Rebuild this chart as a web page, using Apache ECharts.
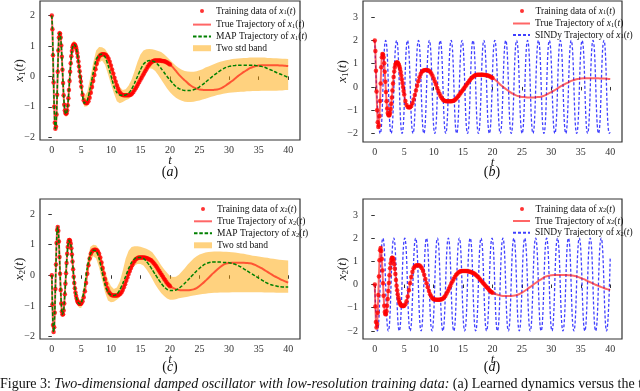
<!DOCTYPE html>
<html>
<head>
<meta charset="utf-8">
<script src="https://cdn.jsdelivr.net/npm/echarts@6.0.0/dist/echarts.min.js"></script>
<style>
  html, body { margin: 0; padding: 0; background: #fff; }
  #chart { width: 640px; height: 391px; }
</style>
</head>
<body>
<div id="chart"></div>
<script>
var FONT = 'Liberation Serif';

// tick labels
var xTicks = [0, 5, 10, 15, 20, 25, 30, 35, 40];
var yTicksLeft = [-2, -1, 0, 1, 2];
var yTicksRight = [-2, -1, 0, 1, 2, 3];

// time grids (sampling points)
var tTrain = [];
for (var i = 0; i <= 50; i++) tTrain.push(i / 10);
for (var i = 26; i <= 100; i++) tTrain.push(i / 5);
var tTail = [];
for (var i = 41; i <= 80; i++) tTail.push(i / 2);
var tMap = [];
for (var i = 0; i <= 30; i++) tMap.push(i / 10);
for (var i = 13; i <= 20; i++) tMap.push(i / 4);
for (var i = 11; i <= 80; i++) tMap.push(i / 2);

// training data / true trajectory, t = 0..20
var x1Train = [
  2.00, 1.55, 0.70, -0.20, -1.00, -1.52, -1.72, -1.65, -1.25, -0.60,
  0.15, 0.85, 1.28, 1.42, 1.40, 1.28, 1.02, 0.65, 0.22, -0.22,
  -0.62, -0.93, -1.12, -1.20, -1.23, -1.21, -1.12, -0.95, -0.72, -0.45, -0.15,
  0.15, 0.43, 0.66, 0.84, 0.96, 1.02, 1.05, 1.05, 1.04, 1.00,
  0.95, 0.87, 0.77, 0.64, 0.49, 0.33, 0.17, 0.00, -0.17, -0.33,
  -0.60, -0.78, -0.86, -0.88, -0.87, -0.82, -0.70, -0.54, -0.35, -0.15,
  0.05, 0.24, 0.42, 0.56, 0.65, 0.70, 0.72, 0.73, 0.73, 0.72,
  0.70, 0.65, 0.58, 0.48, 0.36, 0.23, 0.10, -0.04, -0.17, -0.29,
  -0.40, -0.49, -0.55, -0.59, -0.61, -0.62, -0.62, -0.62, -0.62, -0.62,
  -0.61, -0.59, -0.56, -0.51, -0.45, -0.39, -0.32, -0.25, -0.18, -0.11,
  -0.04, 0.03, 0.10, 0.17, 0.24, 0.31, 0.37, 0.42, 0.46, 0.49,
  0.51, 0.52, 0.52, 0.52, 0.52, 0.52, 0.52, 0.51, 0.51, 0.50,
  0.49, 0.47, 0.45, 0.42, 0.39
];
var x2Train = [
  0.00, -0.95, -1.62, -1.85, -1.70, -1.22, -0.45, 0.35, 1.05, 1.48,
  1.58, 1.45, 1.10, 0.60, 0.05, -0.48, -0.92, -1.18, -1.28, -1.27,
  -1.15, -0.92, -0.62, -0.28, 0.07, 0.40, 0.70, 0.92, 1.07, 1.14, 1.15,
  1.12, 1.03, 0.88, 0.68, 0.45, 0.20, -0.05, -0.25, -0.42, -0.56,
  -0.67, -0.76, -0.83, -0.87, -0.90, -0.92, -0.93, -0.93, -0.93, -0.91,
  -0.85, -0.72, -0.52, -0.25, 0.05, 0.33, 0.55, 0.70, 0.78, 0.82,
  0.83, 0.83, 0.82, 0.78, 0.70, 0.58, 0.42, 0.24, 0.06, -0.12,
  -0.28, -0.42, -0.52, -0.59, -0.63, -0.65, -0.66, -0.66, -0.66, -0.66,
  -0.65, -0.63, -0.60, -0.55, -0.48, -0.39, -0.29, -0.18, -0.07, 0.04,
  0.14, 0.24, 0.33, 0.41, 0.47, 0.52, 0.55, 0.57, 0.58, 0.58,
  0.58, 0.58, 0.58, 0.57, 0.56, 0.55, 0.53, 0.51, 0.49, 0.45,
  0.41, 0.36, 0.31, 0.25, 0.19, 0.13, 0.07, 0.01, -0.05, -0.11,
  -0.16, -0.23, -0.28, -0.32, -0.36
];

// true trajectory, t = 20.5..40
var x1Tail = [
  0.30, 0.18, 0.06, -0.04, -0.13, -0.22, -0.30, -0.36, -0.40, -0.43,
  -0.44, -0.45, -0.45, -0.45, -0.44, -0.43, -0.40, -0.35, -0.29, -0.22,
  -0.15, -0.07, 0.01, 0.08, 0.15, 0.21, 0.27, 0.31, 0.34, 0.36,
  0.37, 0.37, 0.37, 0.37, 0.37, 0.37, 0.36, 0.36, 0.35, 0.34
];
var x2Tail = [
  -0.41, -0.45, -0.48, -0.49, -0.49, -0.49, -0.48, -0.46, -0.42, -0.35,
  -0.27, -0.18, -0.09, 0.01, 0.10, 0.19, 0.27, 0.34, 0.38, 0.40,
  0.41, 0.41, 0.41, 0.41, 0.41, 0.40, 0.39, 0.37, 0.33, 0.28,
  0.23, 0.17, 0.11, 0.05, -0.01, -0.06, -0.11, -0.16, -0.20, -0.24
];

// MAP trajectory and two std band (on tMap)
var x1Map = [
  2.00, 1.55, 0.70, -0.20, -1.00, -1.52, -1.72, -1.65, -1.25, -0.60,
  0.15, 0.85, 1.28, 1.42, 1.40, 1.28, 1.02, 0.65, 0.22, -0.22,
  -0.62, -0.93, -1.12, -1.20, -1.23, -1.21, -1.12, -0.95, -0.72, -0.45, -0.15,
  0.55, 0.96, 1.05, 1.00, 0.82, 0.49, 0.06, -0.38,
  -0.88, -0.78, -0.38, 0.12, 0.56, 0.70, 0.73, 0.64, 0.38, 0.03,
  -0.32, -0.53, -0.61, -0.62, -0.61, -0.55, -0.42, -0.22, 0.00, 0.22,
  0.40, 0.49, 0.52, 0.51, 0.47, 0.38, 0.26, 0.13, 0.00, -0.12,
  -0.23, -0.33, -0.40, -0.44, -0.46, -0.46, -0.46, -0.44, -0.40, -0.34,
  -0.27, -0.19, -0.11, -0.03, 0.05, 0.12, 0.19, 0.25, 0.30, 0.33,
  0.35, 0.36, 0.37, 0.37, 0.37, 0.37, 0.37, 0.37, 0.36, 0.35,
  0.33, 0.30, 0.26, 0.22, 0.18, 0.13, 0.09, 0.05, 0.01, -0.03
];
var x1Up = [
  2.05, 1.62, 0.80, -0.10, -0.90, -1.44, -1.64, -1.56, -1.15, -0.50,
  0.25, 0.95, 1.38, 1.52, 1.50, 1.38, 1.12, 0.76, 0.33, -0.11,
  -0.51, -0.82, -1.01, -1.09, -1.12, -1.10, -1.01, -0.83, -0.60, -0.33, -0.03,
  0.72, 1.12, 1.18, 1.13, 0.97, 0.66, 0.25, -0.20,
  -0.65, -0.50, -0.05, 0.45, 0.85, 0.97, 0.96, 0.90, 0.75, 0.50,
  0.15, -0.15, -0.35, -0.45, -0.42, -0.30, -0.10, 0.18, 0.48, 0.72,
  0.85, 0.89, 0.90, 0.89, 0.87, 0.84, 0.80, 0.73, 0.64, 0.54,
  0.44, 0.35, 0.28, 0.22, 0.18, 0.16, 0.15, 0.15, 0.17, 0.20,
  0.24, 0.29, 0.33, 0.37, 0.41, 0.45, 0.48, 0.51, 0.53, 0.55,
  0.57, 0.58, 0.59, 0.60, 0.61, 0.61, 0.62, 0.62, 0.62, 0.62,
  0.62, 0.62, 0.61, 0.61, 0.60, 0.60, 0.59, 0.58, 0.58, 0.57
];
var x1Lo = [
  1.95, 1.48, 0.60, -0.30, -1.10, -1.60, -1.80, -1.74, -1.35, -0.70,
  0.05, 0.75, 1.18, 1.32, 1.30, 1.18, 0.92, 0.54, 0.11, -0.33,
  -0.73, -1.04, -1.23, -1.31, -1.34, -1.32, -1.23, -1.07, -0.84, -0.57, -0.27,
  0.38, 0.80, 0.92, 0.86, 0.66, 0.30, -0.13, -0.56,
  -1.00, -0.98, -0.75, -0.30, 0.20, 0.45, 0.52, 0.38, 0.08, -0.25,
  -0.55, -0.82, -0.88, -0.84, -0.78, -0.74, -0.66, -0.50, -0.26, -0.03,
  0.13, 0.23, 0.27, 0.25, 0.18, 0.05, -0.10, -0.25, -0.40, -0.52,
  -0.62, -0.70, -0.76, -0.80, -0.83, -0.84, -0.84, -0.83, -0.81, -0.79,
  -0.76, -0.73, -0.70, -0.67, -0.64, -0.61, -0.59, -0.57, -0.55, -0.54,
  -0.53, -0.52, -0.51, -0.50, -0.50, -0.49, -0.49, -0.48, -0.48, -0.48,
  -0.47, -0.47, -0.47, -0.47, -0.47, -0.47, -0.46, -0.46, -0.45, -0.45
];
var x2Map = [
  0.00, -0.95, -1.62, -1.85, -1.70, -1.22, -0.45, 0.35, 1.05, 1.48,
  1.58, 1.45, 1.10, 0.60, 0.05, -0.48, -0.92, -1.18, -1.28, -1.27,
  -1.15, -0.92, -0.62, -0.28, 0.07, 0.40, 0.70, 0.92, 1.07, 1.14, 1.15,
  0.96, 0.45, -0.15, -0.56, -0.80, -0.90, -0.93, -0.90,
  -0.45, 0.25, 0.68, 0.82, 0.80, 0.55, 0.12, -0.30, -0.55, -0.64,
  -0.66, -0.62, -0.48, -0.27, -0.03, 0.22, 0.42, 0.54, 0.58, 0.58,
  0.55, 0.46, 0.33, 0.18, 0.03, -0.12, -0.26, -0.38, -0.46, -0.50,
  -0.50, -0.48, -0.43, -0.35, -0.26, -0.16, -0.06, 0.04, 0.14, 0.23,
  0.31, 0.37, 0.41, 0.43, 0.43, 0.43, 0.43, 0.42, 0.42, 0.41,
  0.39, 0.36, 0.32, 0.27, 0.21, 0.15, 0.09, 0.03, -0.03, -0.09,
  -0.15, -0.21, -0.26, -0.30, -0.33, -0.35, -0.37, -0.38, -0.38, -0.38
];
var x2Up = [
  0.08, -0.87, -1.54, -1.77, -1.62, -1.14, -0.37, 0.43, 1.13, 1.56,
  1.66, 1.53, 1.18, 0.68, 0.13, -0.40, -0.84, -1.10, -1.20, -1.19,
  -1.07, -0.84, -0.54, -0.20, 0.15, 0.48, 0.78, 1.00, 1.15, 1.22, 1.23,
  1.10, 0.62, 0.02, -0.42, -0.68, -0.77, -0.79, -0.76,
  -0.25, 0.45, 0.92, 1.00, 0.98, 0.85, 0.55, 0.15, -0.15, -0.35,
  -0.45, -0.40, -0.20, 0.15, 0.55, 0.80, 0.92, 0.95, 0.95, 0.93,
  0.90, 0.87, 0.82, 0.75, 0.62, 0.48, 0.33, 0.20, 0.08, -0.02,
  -0.06, -0.05, 0.02, 0.12, 0.23, 0.35, 0.45, 0.55, 0.62, 0.68,
  0.71, 0.74, 0.76, 0.77, 0.78, 0.78, 0.78, 0.77, 0.77, 0.76,
  0.75, 0.74, 0.73, 0.71, 0.70, 0.68, 0.66, 0.64, 0.63, 0.61,
  0.60, 0.58, 0.57, 0.55, 0.54, 0.52, 0.51, 0.50, 0.49, 0.48
];
var x2Lo = [
  -0.08, -1.03, -1.70, -1.93, -1.78, -1.30, -0.53, 0.27, 0.97, 1.40,
  1.50, 1.37, 1.02, 0.52, -0.03, -0.56, -1.00, -1.26, -1.36, -1.35,
  -1.23, -1.00, -0.70, -0.36, -0.01, 0.32, 0.62, 0.84, 0.99, 1.06, 1.07,
  0.82, 0.28, -0.32, -0.70, -0.92, -1.03, -1.07, -1.06,
  -0.70, -0.05, 0.42, 0.62, 0.55, 0.25, -0.15, -0.55, -0.82, -0.88,
  -0.86, -0.80, -0.72, -0.58, -0.35, -0.05, 0.20, 0.32, 0.37, 0.37,
  0.32, 0.20, 0.05, -0.12, -0.30, -0.45, -0.58, -0.68, -0.76, -0.80,
  -0.80, -0.78, -0.75, -0.73, -0.72, -0.70, -0.68, -0.66, -0.64, -0.63,
  -0.61, -0.60, -0.59, -0.58, -0.57, -0.57, -0.56, -0.56, -0.56, -0.56,
  -0.55, -0.55, -0.55, -0.55, -0.55, -0.55, -0.55, -0.55, -0.55, -0.55,
  -0.55, -0.56, -0.56, -0.56, -0.56, -0.57, -0.57, -0.57, -0.57, -0.57
];

// SINDy trajectories (turning points)
var tSindy1 = [0, 0.93, 1.85, 2.78, 3.71, 4.64, 5.56, 6.49, 7.42, 8.34, 9.27, 10.2, 11.12, 12.05, 12.98,
  13.91, 14.83, 15.76, 16.69, 17.61, 18.54, 19.47, 20.39, 21.32, 22.25, 23.18, 24.1, 25.03, 25.96,
  26.88, 27.81, 28.74, 29.66, 30.59, 31.52, 32.45, 33.37, 34.3, 35.23, 36.15, 37.08, 38.01, 38.93, 39.86, 40];
var x1Sindy = [2, -2, 2, -2, 2, -2, 2, -2, 2, -2, 2, -2, 2, -2, 2, -2, 2, -2, 2, -2, 2, -2,
  2, -2, 2, -2, 2, -2, 2, -2, 2, -2, 2, -2, 2, -2, 2, -2, 2, -2, 2, -2, 2, -2, -1.95];
var tSindy2 = [0, 0.45, 1.38, 2.3, 3.23, 4.16, 5.09, 6.01, 6.94, 7.87, 8.79, 9.72, 10.65, 11.57, 12.5,
  13.43, 14.36, 15.28, 16.21, 17.14, 18.06, 18.99, 19.92, 20.84, 21.77, 22.7, 23.63, 24.55, 25.48,
  26.41, 27.33, 28.26, 29.19, 30.11, 31.04, 31.97, 32.9, 33.82, 34.75, 35.68, 36.6, 37.53, 38.46, 39.38, 40];
var x2Sindy = [0, -2, 2, -2, 2, -2, 2, -2, 2, -2, 2, -2, 2, -2, 2, -2, 2, -2, 2, -2, 2, -2,
  2, -2, 2, -2, 2, -2, 2, -2, 2, -2, 2, -2, 2, -2, 2, -2, 2, -2, 2, -2, 2, -2, 1.2];

var RED_LINE = 'rgba(255,0,0,0.6)';
var BAND = 'rgba(255,165,0,0.5)';
var GREEN = '#008000';
var BLUE = 'rgba(0,0,255,0.75)';

function pairs(ts, vs) {
  var out = [];
  for (var k = 0; k < ts.length; k++) out.push([ts[k], vs[k]]);
  return out;
}

var richText = {
  i: { fontFamily: FONT, fontStyle: 'italic', fontSize: 9.5, lineHeight: 10 },
  s: { fontFamily: FONT, fontSize: 6.5, lineHeight: 10, verticalAlign: 'bottom' }
};
function mathName(name) {
  return name.replace(/x(\d)\(t\)/, '{i|x}{s|$1}({i|t})');
}

var grids = [
  { left: 40, top: 1, width: 260, height: 139 },
  { left: 363, top: 1, width: 259, height: 141 },
  { left: 40, top: 199, width: 260, height: 140 },
  { left: 363, top: 199, width: 259, height: 140 }
];
grids.forEach(function (g) {
  g.show = true;
  g.borderColor = '#333';
  g.borderWidth = 1.2;
  g.outerBoundsMode = 'none';
});

function xAx(gi) {
  return {
    type: 'value', gridIndex: gi, min: -2, max: 42,
    name: 't', nameLocation: 'middle', nameGap: 14, nameMoveOverlap: false,
    nameTextStyle: { fontFamily: FONT, fontStyle: 'italic', fontSize: 13, color: '#222' },
    axisLine: { show: false }, splitLine: { show: false },
    axisTick: { show: true, length: 3.5, customValues: xTicks, lineStyle: { color: '#333' } },
    axisLabel: { customValues: xTicks, margin: 5, fontFamily: FONT, fontSize: 10, color: '#333' }
  };
}
function yAx(gi, min, max, ticks, sub) {
  return {
    type: 'value', gridIndex: gi, min: min, max: max,
    name: '{i|x}{s|' + sub + '}{n|(}{i|t}{n|)}', nameLocation: 'middle', nameGap: 13,
    nameMoveOverlap: false,
    nameTextStyle: {
      color: '#222',
      rich: {
        i: { fontFamily: FONT, fontStyle: 'italic', fontSize: 13, lineHeight: 14, color: '#222' },
        n: { fontFamily: FONT, fontSize: 13, lineHeight: 14, color: '#222' },
        s: { fontFamily: FONT, fontSize: 9, lineHeight: 14, verticalAlign: 'bottom', color: '#222' }
      }
    },
    axisLine: { show: false }, splitLine: { show: false },
    axisTick: { show: true, length: 3.5, customValues: ticks, lineStyle: { color: '#333' } },
    axisLabel: {
      customValues: ticks, margin: 5, fontFamily: FONT, fontSize: 10, color: '#333',
      formatter: function (v) { return v < 0 ? '\u2212' + Math.abs(v) : String(v); }
    }
  };
}

function bandSeries(gi, up, lo) {
  return {
    type: 'custom', name: 'Two std band', xAxisIndex: gi, yAxisIndex: gi, z: 1, silent: true,
    clip: true, itemStyle: { color: BAND },
    data: tMap.map(function (t, k) { return [t, up[k], lo[k]]; }),
    encode: { x: 0, y: [1, 2] },
    renderItem: function (params, api) {
      if (params.dataIndex !== 0) return null;
      var pts = [];
      for (var k = 0; k < tMap.length; k++) pts.push(api.coord([tMap[k], up[k]]));
      for (var k = tMap.length - 1; k >= 0; k--) pts.push(api.coord([tMap[k], lo[k]]));
      return { type: 'polygon', shape: { points: pts }, style: { fill: BAND } };
    }
  };
}
function trueSeries(gi, name, train, tail) {
  return {
    type: 'line', name: name, xAxisIndex: gi, yAxisIndex: gi, z: 2, silent: true,
    symbol: 'none', smooth: 0.2,
    lineStyle: { color: RED_LINE, width: 2 }, itemStyle: { color: RED_LINE },
    data: pairs(tTrain, train).concat(pairs(tTail, tail))
  };
}
function trainSeries(gi, name, train) {
  return {
    type: 'scatter', name: name, xAxisIndex: gi, yAxisIndex: gi, z: 3, silent: true,
    symbol: 'circle', symbolSize: 4.5, itemStyle: { color: '#ff0000' },
    data: pairs(tTrain, train)
  };
}
function mapSeries(gi, name, vals) {
  return {
    type: 'line', name: name, xAxisIndex: gi, yAxisIndex: gi, z: 4, silent: true,
    symbol: 'none', smooth: 0.2,
    lineStyle: { color: GREEN, width: 1.5, type: [3.5, 1.8] }, itemStyle: { color: GREEN },
    data: pairs(tMap, vals)
  };
}
function sindySeries(gi, name, ts, vals) {
  return {
    type: 'line', name: name, xAxisIndex: gi, yAxisIndex: gi, z: 1, silent: true,
    symbol: 'none', smooth: true,
    lineStyle: { color: BLUE, width: 1.3, type: [3, 2] }, itemStyle: { color: BLUE },
    data: pairs(ts, vals)
  };
}

// line entries: hide the marker ECharts puts in the middle of a line icon
function lineItem(name) {
  return { name: name, itemStyle: { color: 'rgba(0,0,0,0)', borderWidth: 0 } };
}

function legendPair(left, top1, top2, gap, w, trainName, others) {
  var txt = { fontFamily: FONT, fontSize: 9.5, lineHeight: 10, color: '#111', rich: richText };
  return [
    { left: left + 8, top: top1, itemWidth: w, itemHeight: 4, selectedMode: false, padding: 0,
      textStyle: txt, formatter: mathName, data: [trainName] },
    { left: left, top: top2, orient: 'vertical', itemGap: gap, itemWidth: w, itemHeight: 6,
      selectedMode: false, padding: 0, textStyle: txt, formatter: mathName, data: others }
  ];
}

var N1 = ['Training data of x1(t)', 'True Trajectory of x1(t)', 'MAP Trajectory of x1(t)', 'SINDy Trajectory of x1(t)'];
var N2 = ['Training data of x2(t)', 'True Trajectory of x2(t)', 'MAP Trajectory of x2(t)', 'SINDy Trajectory of x2(t)'];
var bandItem = { name: 'Two std band', icon: 'rect' };

var legends = []
  .concat(legendPair(192, 6, 19.6, 1.8, 18, N1[0], [lineItem(N1[1]), lineItem(N1[2]), bandItem]))
  .concat(legendPair(512, 6, 18.5, 1.5, 17, N1[0], [lineItem(N1[1]), lineItem(N1[3])]))
  .concat(legendPair(193, 204, 216.3, 2, 18, N2[0], [lineItem(N2[1]), lineItem(N2[2]), bandItem]))
  .concat(legendPair(512, 204, 216, 1.8, 17, N2[0], [lineItem(N2[1]), lineItem(N2[3])]));

var panelLabel = function (x, y, letter) {
  return {
    type: 'text', x: x, y: y, silent: true,
    style: {
      text: '{n|(}{i|' + letter + '}{n|)}', align: 'center', verticalAlign: 'middle',
      rich: {
        n: { fontFamily: FONT, fontSize: 14, fill: '#111' },
        i: { fontFamily: FONT, fontSize: 14, fontStyle: 'italic', fill: '#111' }
      }
    }
  };
};

var chart = echarts.init(document.getElementById('chart'), null, { renderer: 'canvas' });
chart.setOption({
  animation: false,
  backgroundColor: '#fff',
  grid: grids,
  xAxis: [xAx(0), xAx(1), xAx(2), xAx(3)],
  yAxis: [
    yAx(0, -2.09, 2.48, yTicksLeft, '1'),
    yAx(1, -2.37, 3.70, yTicksRight, '1'),
    yAx(2, -2.08, 2.49, yTicksLeft, '2'),
    yAx(3, -2.35, 3.69, yTicksRight, '2')
  ],
  legend: legends,
  series: [
    bandSeries(0, x1Up, x1Lo),
    trueSeries(0, N1[1], x1Train, x1Tail),
    trainSeries(0, N1[0], x1Train),
    mapSeries(0, N1[2], x1Map),

    sindySeries(1, N1[3], tSindy1, x1Sindy),
    trueSeries(1, N1[1], x1Train, x1Tail),
    trainSeries(1, N1[0], x1Train),

    bandSeries(2, x2Up, x2Lo),
    trueSeries(2, N2[1], x2Train, x2Tail),
    trainSeries(2, N2[0], x2Train),
    mapSeries(2, N2[2], x2Map),

    sindySeries(3, N2[3], tSindy2, x2Sindy),
    trueSeries(3, N2[1], x2Train, x2Tail),
    trainSeries(3, N2[0], x2Train)
  ],
  graphic: [
    panelLabel(170, 172, 'a'),
    panelLabel(492, 172, 'b'),
    panelLabel(170, 367, 'c'),
    panelLabel(492, 367, 'd'),
    {
      type: 'text', x: 0, y: 384, silent: true,
      style: {
        text: '{n|Figure 3:} {it|Two-dimensional damped oscillator with low-resolution training data:} {n|(a) Learned dynamics versus the t}',
        verticalAlign: 'middle',
        rich: {
          n: { fontFamily: FONT, fontSize: 14, fill: '#111' },
          it: { fontFamily: FONT, fontSize: 14, fontStyle: 'italic', fill: '#111' }
        }
      }
    }
  ]
});
</script>
</body>
</html>
